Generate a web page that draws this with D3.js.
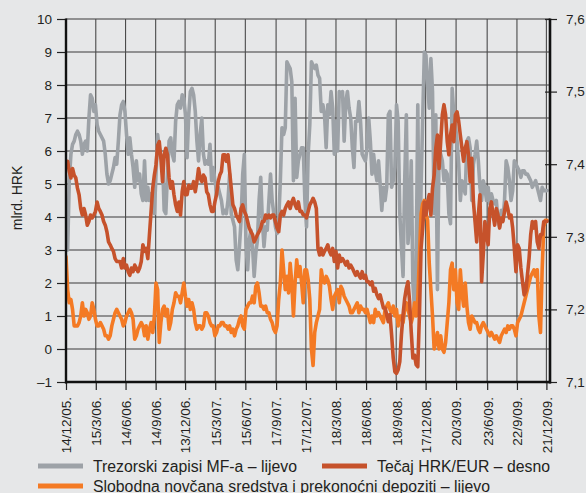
<!DOCTYPE html>
<html><head><meta charset="utf-8">
<script src="https://cdn.jsdelivr.net/npm/d3@7"></script>
<style>
html,body{margin:0;padding:0;background:#e6e7e8;}
svg{display:block;font-family:"Liberation Sans",Arial,sans-serif;}
</style></head><body><svg id="chart" width="586" height="493"></svg>
<script>
// ---- data ----
const startDate = new Date(2005, 11, 14);
const stepDays = 5;

const xTickDates = ["2005-12-14","2006-03-15","2006-06-14","2006-09-14","2006-12-13","2007-03-15","2007-06-15","2007-09-17","2007-12-17","2008-03-18","2008-06-18","2008-09-18","2008-12-17","2009-03-20","2009-06-23","2009-09-22","2009-12-21"];
const xTickLabels = ["14/12/05.","15/3/06.","14/6/06.","14/9/06.","13/12/06.","15/3/07.","15/6/07.","17/9/07.","17/12/07.","18/3/08.","18/6/08.","18/9/08.","17/12/08.","20/3/09.","23/6/09.","22/9/09.","21/12/09."];
const leftTicks = [-1,0,1,2,3,4,5,6,7,8,9,10];
const leftTickLabels = ["–1","0","1","2","3","4","5","6","7","8","9","10"];
const rightTicks = [7.1,7.2,7.3,7.4,7.5,7.6];
const rightTickLabels = ["7,1","7,2","7,3","7,4","7,5","7,6"];

// Trezorski zapisi MF-a (left, mlrd. HRK)
const trezorski = [
4.4,3.0,5.1,5.9,6.2,6.3,6.5,6.6,6.5,6.3,5.9,6.2,6.3,6.0,7.0,7.7,7.6,7.2,7.4,6.8,6.6,6.5,6.4,6.3,5.9,5.3,5.0,5.1,5.3,5.5,5.8,5.6,6.3,7.1,7.4,7.5,7.2,6.5,5.9,6.4,5.9,5.5,4.9,5.7,5.1,5.3,4.7,4.5,
5.7,4.5,4.9,4.5,4.7,4.2,4.1,5.3,6.5,6.1,5.8,5.7,4.2,4.1,5.3,6.3,6.4,5.9,5.7,6.9,7.4,7.5,7.3,7.7,7.6,7.1,5.8,7.1,7.8,7.9,7.7,7.2,6.3,5.7,6.5,7.0,5.9,5.6,5.7,5.6,6.2,5.1,5.5,5.1,4.8,4.9,4.7,4.5,4.1,
4.2,4.1,4.5,5.3,4.1,3.9,3.7,2.7,2.4,3.1,3.9,5.3,5.9,3.2,2.4,3.3,3.6,3.1,2.2,2.9,3.3,4.5,5.2,3.9,3.1,3.7,3.6,4.5,5.3,4.5,4.1,3.7,3.5,3.9,5.1,6.7,6.5,6.7,8.7,8.6,8.5,8.1,5.1,7.6,5.2,5.7,5.9,6.1,6.1,
4.5,3.7,5.9,6.8,8.7,8.6,8.5,8.6,8.3,8.2,7.2,7.4,7.1,6.1,7.4,7.1,7.8,7.3,5.9,6.9,6.0,7.8,7.7,7.8,6.3,7.5,7.8,7.3,7.0,6.1,5.5,6.9,6.9,7.5,6.9,5.9,5.8,5.7,6.1,7.0,6.3,5.3,5.9,5.4,5.1,5.7,5.0,4.2,4.9,
4.5,4.9,7.1,7.2,4.9,5.1,5.5,7.4,6.9,4.1,3.1,2.2,5.1,7.1,3.2,3.9,5.7,2.0,1.2,2.5,7.4,2.0,4.9,7.0,9.0,8.9,8.0,7.3,8.8,7.8,4.1,7.1,1.8,6.1,5.9,5.7,5.1,5.4,5.3,4.1,3.8,7.9,7.1,6.8,6.3,5.6,4.5,5.1,4.9,
4.7,6.3,6.4,6.1,4.5,5.6,5.9,6.3,5.7,4.9,4.5,5.1,4.9,4.5,4.9,4.4,4.7,4.5,4.4,4.5,3.9,3.7,4.2,3.9,4.5,5.7,5.5,5.1,4.5,4.8,5.7,5.6,5.5,5.4,5.2,5.4,5.4,5.3,5.3,5.2,5.1,4.9,5.0,5.1,4.9,4.7,4.5,4.9,4.8,4.8,4.8
];

// Tečaj HRK/EUR (right)
const tecaj = [
7.404,7.404,7.390,7.381,7.394,7.385,7.381,7.367,7.358,7.339,7.330,7.339,7.330,7.316,7.321,7.330,7.326,7.330,7.335,7.348,7.339,7.335,7.330,7.321,7.316,7.307,7.293,7.289,7.284,7.280,7.270,7.266,7.266,7.266,7.257,7.270,7.257,7.261,7.252,7.247,7.257,7.252,7.261,7.257,7.252,7.257,7.266,7.289,
7.280,7.284,7.270,7.303,7.335,7.367,7.385,7.399,7.426,7.431,7.408,7.376,7.413,7.422,7.413,7.381,7.367,7.376,7.358,7.344,7.335,7.348,7.330,7.362,7.376,7.358,7.358,7.371,7.367,7.367,7.376,7.362,7.376,7.394,7.381,7.376,7.385,7.381,7.362,7.358,7.344,7.335,7.335,7.348,7.358,7.376,7.385,7.390,7.413,
7.413,7.404,7.413,7.390,7.367,7.344,7.339,7.330,7.326,7.321,7.339,7.344,7.335,7.330,7.321,7.312,7.307,7.303,7.293,7.298,7.303,7.307,7.312,7.321,7.321,7.330,7.326,7.330,7.326,7.330,7.330,7.321,7.312,7.307,7.330,7.335,7.330,7.339,7.344,7.348,7.339,7.348,7.353,7.344,7.339,7.348,7.335,7.335,7.330,
7.330,7.326,7.335,7.344,7.348,7.353,7.348,7.339,7.284,7.275,7.284,7.275,7.280,7.284,7.289,7.280,7.275,7.284,7.266,7.280,7.257,7.275,7.266,7.270,7.266,7.261,7.266,7.257,7.261,7.257,7.252,7.247,7.252,7.247,7.243,7.252,7.243,7.247,7.238,7.238,7.234,7.238,7.225,7.229,7.220,7.215,7.220,7.211,7.202,
7.202,7.193,7.183,7.193,7.165,7.133,7.114,7.112,7.117,7.128,7.165,7.193,7.215,7.229,7.238,7.211,7.169,7.133,7.137,7.124,7.121,7.193,7.284,7.312,7.348,7.330,7.348,7.358,7.330,7.367,7.385,7.422,7.440,7.394,7.431,7.468,7.482,7.468,7.431,7.413,7.440,7.454,7.431,7.468,7.472,7.459,7.440,7.422,7.404,
7.422,7.431,7.413,7.376,7.408,7.348,7.321,7.293,7.330,7.358,7.238,7.275,7.321,7.303,7.289,7.339,7.348,7.330,7.316,7.339,7.330,7.312,7.326,7.321,7.335,7.348,7.339,7.326,7.330,7.312,7.284,7.252,7.289,7.284,7.257,7.238,7.220,7.225,7.247,7.270,7.303,7.321,7.312,7.321,7.293,7.284,7.303,7.303,7.321,7.321,7.321
];

// Slobodna novčana sredstva i prekonoćni depoziti (left)
const slobodna = [
2.8,1.8,1.4,1.5,1.2,0.7,0.7,0.7,0.8,1.0,1.4,1.0,1.2,1.1,0.9,1.0,1.4,1.2,0.9,0.7,0.7,0.8,0.7,0.6,0.4,0.4,0.3,0.4,0.7,0.9,1.1,1.2,1.1,1.0,0.9,0.7,0.8,1.0,1.1,1.2,1.1,0.9,0.3,0.4,0.6,0.7,0.8,0.7,
0.4,0.7,0.3,0.6,0.8,0.5,1.0,2.0,1.8,0.2,0.8,1.2,1.3,1.0,1.2,0.6,0.8,1.2,1.4,1.7,1.6,1.6,1.4,1.7,2.0,1.6,1.3,1.5,1.2,1.4,1.2,0.8,0.6,0.7,0.7,0.6,0.7,1.1,1.1,1.0,0.8,0.7,0.7,0.4,0.5,0.7,0.7,0.8,0.8,
0.7,0.7,0.6,0.7,0.5,0.6,0.4,0.6,0.7,0.9,1.0,0.7,0.6,1.2,1.3,1.4,1.4,1.6,1.4,1.9,2.0,1.7,1.3,1.3,1.2,1.3,1.1,1.1,0.9,0.8,0.6,0.5,0.7,1.5,2.0,3.0,2.4,1.8,2.2,1.7,2.6,2.0,1.0,2.0,2.7,2.2,2.5,2.0,1.4,
2.4,2.4,2.1,1.5,0.0,-0.5,0.5,0.8,1.0,1.2,2.4,2.1,2.0,2.2,2.1,1.9,1.5,1.2,1.6,1.7,1.8,1.4,1.9,1.8,1.6,1.5,1.4,1.3,1.1,1.1,1.2,1.3,1.4,1.1,1.3,1.2,1.2,1.1,1.2,1.0,0.8,1.0,0.8,1.2,1.0,1.1,1.0,0.9,0.8,
1.2,1.3,1.4,1.2,1.1,1.3,1.0,1.2,0.7,1.0,1.0,0.8,1.2,1.4,1.2,1.0,0.8,1.0,1.4,1.0,1.5,2.8,4.1,4.4,4.5,4.1,3.9,2.6,1.8,1.0,0.0,0.2,0.5,0.0,0.4,0.0,-0.1,0.2,0.8,1.4,2.4,2.6,1.8,2.4,1.4,1.2,2.4,1.7,1.3,
2.0,1.3,0.8,0.6,1.0,0.9,0.8,0.8,0.6,0.5,0.7,0.8,0.7,0.6,0.5,0.4,0.5,0.4,0.3,0.4,0.3,0.2,0.4,0.5,0.6,0.5,0.7,0.6,0.7,0.7,0.6,0.4,0.8,0.9,1.0,1.2,1.4,1.6,1.8,2.0,2.2,2.3,2.4,2.2,2.4,1.0,0.5,2.4,3.7,3.9,3.9
];

const seriesNames = ["Trezorski zapisi MF-a – lijevo","Tečaj HRK/EUR – desno","Slobodna novčana sredstva i prekonoćni depoziti – lijevo"];
const seriesColors = ["#9da2a7","#c6522b","#f47a24"];

// ---- chart ----
const svg = d3.select("#chart");
const L = 66, R = 550, T = 19, B = 382;
const parse = d3.timeParse("%Y-%m-%d");
const tickDates = xTickDates.map(parse);

const x = d3.scaleTime().domain([startDate, new Date(2010, 0, 1)]).range([L, R]);
const yL = d3.scaleLinear().domain([-1, 10]).range([B, T]);
const yR = d3.scaleLinear().domain([7.1, 7.6]).range([B, T]);

const gridColor = "#3a3a3a";
const textColor = "#231f20";

// grid
svg.append("g").selectAll("line").data(leftTicks).join("line")
  .attr("x1", L).attr("x2", R).attr("y1", d => yL(d)).attr("y2", d => yL(d))
  .attr("stroke", gridColor).attr("stroke-width", 1.1);
svg.append("g").selectAll("line").data(tickDates).join("line")
  .attr("x1", d => x(d)).attr("x2", d => x(d)).attr("y1", T).attr("y2", B)
  .attr("stroke", "#4a4a4a").attr("stroke-width", 1.1);

// clip
svg.append("clipPath").attr("id", "clip").append("rect")
  .attr("x", L).attr("y", T - 5).attr("width", R - L).attr("height", B - T + 5);

const toPts = vals => vals.map((v, i) => ({ d: d3.timeDay.offset(startDate, i * stepDays), v }));
const lineL = d3.line().x(p => x(p.d)).y(p => yL(p.v));
const lineR = d3.line().x(p => x(p.d)).y(p => yR(p.v));

const lines = svg.append("g").attr("clip-path", "url(#clip)")
  .attr("fill", "none").attr("stroke-width", 3.6).attr("stroke-linejoin", "round").attr("stroke-linecap", "round");
lines.append("path").attr("d", lineL(toPts(trezorski))).attr("stroke", seriesColors[0]);
lines.append("path").attr("d", lineL(toPts(slobodna))).attr("stroke", seriesColors[2]);
lines.append("path").attr("d", lineR(toPts(tecaj))).attr("stroke", seriesColors[1]);

// axes
const fontSize = "13.5px";
const axL = svg.append("g").attr("transform", `translate(${L},0)`)
  .call(d3.axisLeft(yL).tickValues(leftTicks).tickFormat((d, i) => leftTickLabels[i]).tickSize(9).tickPadding(5));
const axR = svg.append("g").attr("transform", `translate(${R},0)`)
  .call(d3.axisRight(yR).tickValues(rightTicks).tickFormat((d, i) => rightTickLabels[i]).tickSize(7).tickPadding(9));
axR.selectAll(".tick line").attr("x1", -5);
const axB = svg.append("g").attr("transform", `translate(0,${B})`)
  .call(d3.axisBottom(x).tickValues(tickDates).tickFormat((d, i) => xTickLabels[i]).tickSize(8));
axB.selectAll(".tick text")
  .attr("transform", "rotate(-90)").attr("x", -15).attr("y", 0).attr("dy", "0.36em")
  .attr("text-anchor", "end");
[axL, axR, axB].forEach(a => {
  a.select(".domain").remove();
  a.selectAll(".tick line").attr("stroke", "#222").attr("stroke-width", 1.2);
  a.selectAll(".tick text").attr("fill", textColor).style("font-size", fontSize)
    .style("font-family", '"Liberation Sans", Arial, sans-serif');
});

// axis frame lines
svg.append("line").attr("x1", L).attr("x2", L).attr("y1", T - 0.5).attr("y2", B + 1.5).attr("stroke", "#111").attr("stroke-width", 2.4);
svg.append("line").attr("x1", R).attr("x2", R).attr("y1", T - 0.5).attr("y2", B + 1.5).attr("stroke", "#111").attr("stroke-width", 2.6);
svg.append("line").attr("x1", L - 1).attr("x2", R + 1).attr("y1", B).attr("y2", B).attr("stroke", "#111").attr("stroke-width", 2.4);

// y title
svg.append("text").attr("transform", "translate(22,198) rotate(-90)")
  .attr("text-anchor", "middle").attr("fill", textColor)
  .style("font-size", "14px").text("mlrd. HRK");

// legend
const legendItems = [
  { name: seriesNames[0], color: seriesColors[0], x: 38, y: 466 },
  { name: seriesNames[1], color: seriesColors[1], x: 322, y: 466 },
  { name: seriesNames[2], color: seriesColors[2], x: 38, y: 486 }
];
const lg = svg.append("g").selectAll("g").data(legendItems).join("g")
  .attr("transform", d => `translate(${d.x},${d.y})`);
lg.append("line").attr("x1", 0).attr("x2", 45).attr("y1", 0).attr("y2", 0)
  .attr("stroke", d => d.color).attr("stroke-width", 5);
lg.append("text").attr("x", 55).attr("y", 5.5).attr("fill", textColor)
  .style("font-size", "15.8px").text(d => d.name);
</script></body></html>
